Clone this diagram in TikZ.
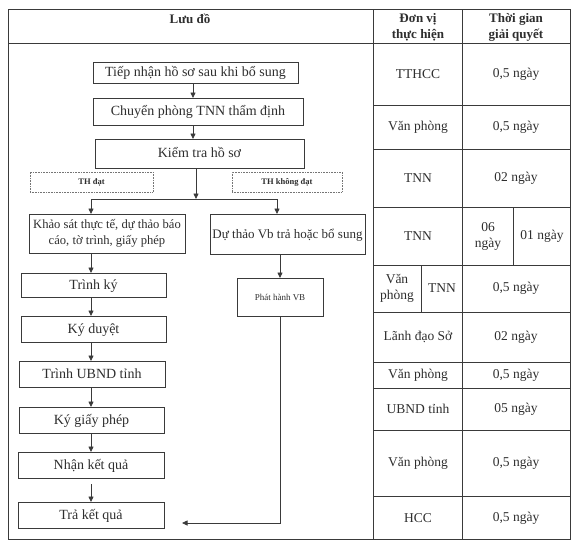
\documentclass[tikz,border=0pt]{standalone}
\usepackage{fontspec}
\setmainfont{Liberation Serif}
\usetikzlibrary{arrows.meta}
\definecolor{ink}{HTML}{3A3A3A}
\definecolor{txt}{HTML}{2E2E2E}
\begin{document}
\begin{tikzpicture}[x=1pt,y=-1pt,
  every node/.style={text=txt, inner sep=0pt, outer sep=0pt},
  box/.style={draw=ink, line width=0.8pt, align=center, font=\fontsize{14}{16}\selectfont},
  onel/.style={text height=11pt, text depth=2.5pt},
  lab/.style={draw=ink!70, densely dotted, line width=0.6pt, font=\bfseries\fontsize{8.5}{10}\selectfont, text height=6pt, text depth=2pt},
  arr/.style={draw=ink, line width=0.8pt, -{Triangle[length=5.5pt,width=5pt]}},
  ln/.style={draw=ink, line width=0.8pt},
  tbl/.style={draw=ink, line width=0.7pt},
  hd/.style={align=center, font=\bfseries\fontsize{13}{16}\selectfont},
  cell/.style={align=center, font=\fontsize{13.5}{16}\selectfont}]
\useasboundingbox (0,0) rectangle (576,547);
\fill[white] (0,0) rectangle (576,547);
% table frame
\draw[tbl] (8,9) rectangle (570,539);
\draw[tbl] (8,43) -- (570,43);
\draw[tbl] (373,9) -- (373,539);
\draw[tbl] (462,9) -- (462,539);
\foreach \yy in {105,149,207,265,312,362,388,430,496}
  \draw[tbl] (373,\yy) -- (570,\yy);
\draw[tbl] (513,207) -- (513,265);
\draw[tbl] (421,265) -- (421,312);
% header
\node[hd] (h1) at (190,19) {Lưu đồ};
\node[hd] (h2) at (418,27) {Đơn vị\\thực hiện};
\node[hd] (h3) at (516,27) {Thời gian\\giải quyết};
% table cells
\node[cell] (u1) at (418,74) {TTHCC};
\node[cell] (t1) at (516,74) {0,5 ngày};
\node[cell] (u2) at (418,127) {Văn phòng};
\node[cell] (t2) at (516,127) {0,5 ngày};
\node[cell] (u3) at (418,178) {TNN};
\node[cell] (t3) at (516,178) {02 ngày};
\node[cell] (u4) at (418,236) {TNN};
\node[cell] (t4a) at (488,236) {06\\ngày};
\node[cell] (t4b) at (542,236) {01 ngày};
\node[cell] (u5a) at (397,288) {Văn\\phòng};
\node[cell] (u5b) at (442,288) {TNN};
\node[cell] (t5) at (516,288) {0,5 ngày};
\node[cell] (u6) at (418,337) {Lãnh đạo Sở};
\node[cell] (t6) at (516,337) {02 ngày};
\node[cell] (u7) at (418,375) {Văn phòng};
\node[cell] (t7) at (516,375) {0,5 ngày};
\node[cell] (u8) at (418,409) {UBND tỉnh};
\node[cell] (t8) at (516,409) {05 ngày};
\node[cell] (u9) at (418,463) {Văn phòng};
\node[cell] (t9) at (516,463) {0,5 ngày};
\node[cell] (u10) at (418,518) {HCC};
\node[cell] (t10) at (516,518) {0,5 ngày};
% flowchart boxes
\node[box, onel, minimum width=205pt, minimum height=21pt] (b1) at (195.5,72.5) {Tiếp nhận hồ sơ sau khi bổ sung};
\node[box, onel, minimum width=210pt, minimum height=27pt] (b2) at (198,111.5) {Chuyển phòng TNN thẩm định};
\node[box, onel, minimum width=209pt, minimum height=29pt] (b3) at (199.5,153.5) {Kiểm tra hồ sơ};
\node[lab, minimum width=123pt, minimum height=20pt] (l1) at (91.5,182) {TH đạt};
\node[lab, minimum width=110pt, minimum height=20pt] (l2) at (287,182) {TH không đạt};
\node[box, minimum width=156pt, minimum height=39pt, font=\fontsize{12.6}{16}\selectfont] (ks) at (107,233.5) {Khảo sát thực tế, dự thảo báo\\cáo, tờ trình, giấy phép};
\node[box, onel, minimum width=155pt, minimum height=40pt, font=\fontsize{13}{16}\selectfont] (dt) at (287.5,234) {Dự thảo Vb trả hoặc bổ sung};
\node[box, onel, minimum width=145pt, minimum height=24pt] (tk) at (93.5,285) {Trình ký};
\node[box, minimum width=86pt, minimum height=38pt, font=\fontsize{9}{11}\selectfont] (ph) at (280,297) {Phát hành VB};
\node[box, onel, minimum width=145pt, minimum height=26pt] (kd) at (93.5,329) {Ký duyệt};
\node[box, onel, minimum width=146pt, minimum height=26pt] (tu) at (92,374) {Trình UBND tỉnh};
\node[box, onel, minimum width=145pt, minimum height=26pt] (kg) at (91.5,420) {Ký giấy phép};
\node[box, onel, minimum width=146pt, minimum height=26pt] (nk) at (91,465) {Nhận kết quả};
\node[box, onel, minimum width=146pt, minimum height=26pt] (tr) at (91,515) {Trả kết quả};
% connectors
\coordinate (sp) at (196,199);
\coordinate (sl) at (91,199);
\coordinate (sr) at (277,199);
\coordinate (rt) at (280,523);
\coordinate (en) at (182,523);
\draw[arr] ([xshift=-2.5pt]b1.south) -- ([xshift=-2.5pt]b1.south |- b2.north);
\draw[arr] ([xshift=-5pt]b2.south) -- ([xshift=-5pt]b2.south |- b3.north);
\draw[arr] (b3.south -| sp) -- (sp);
\draw[ln] (sl) -- (sr);
\draw[arr] (sl) -- (sl |- ks.north);
\draw[arr] (sr) -- (sr |- dt.north);
\draw[arr] (ks.south -| sl) -- (tk.north -| sl);
\draw[arr] (tk.south -| sl) -- (kd.north -| sl);
\draw[arr] (kd.south -| sl) -- (tu.north -| sl);
\draw[arr] (tu.south -| sl) -- (kg.north -| sl);
\draw[arr] (kg.south -| sl) -- (nk.north -| sl);
\draw[arr] ([yshift=-6pt]nk.south -| sl) -- (tr.north -| sl);
\draw[arr] (dt.south -| ph) -- (ph.north);
\draw[arr] (ph.south) -- (rt) -- (en);
\end{tikzpicture}
\end{document}
